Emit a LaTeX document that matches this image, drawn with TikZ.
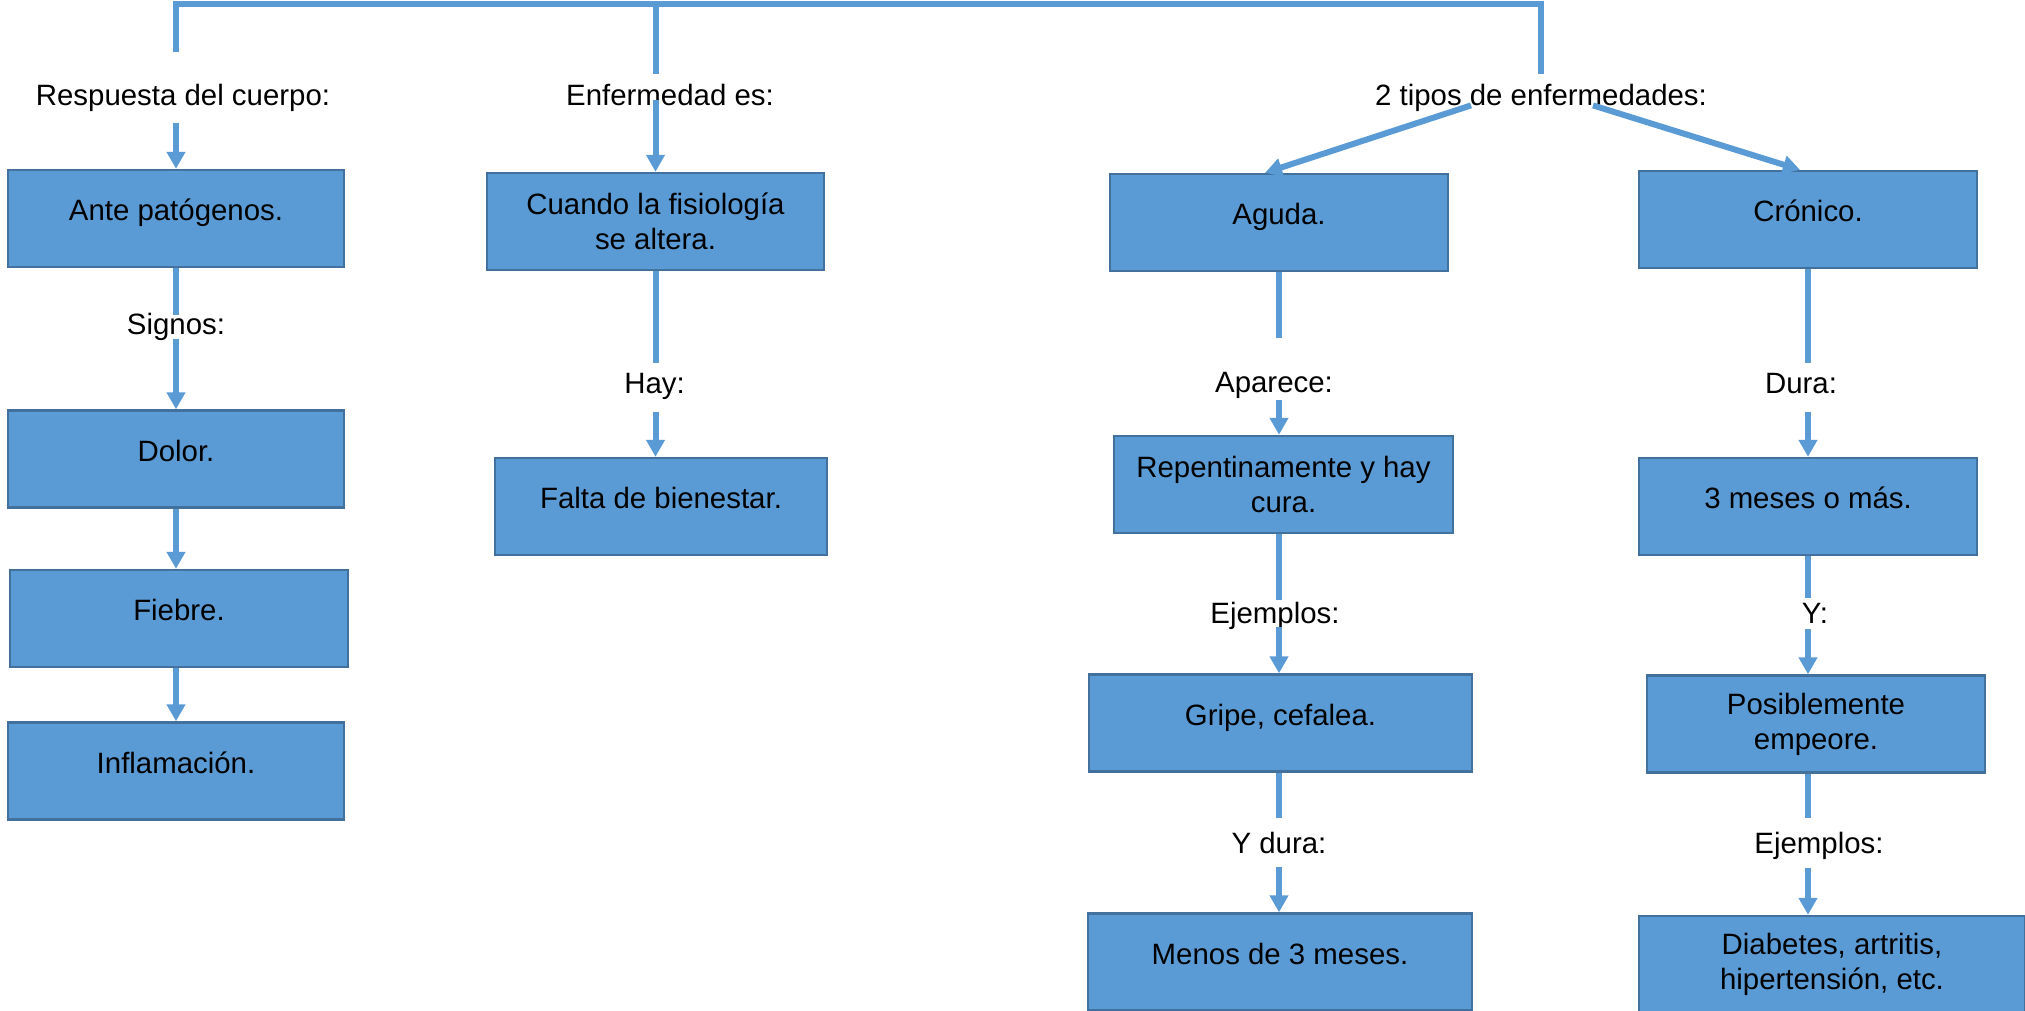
\documentclass[tikz,border=0pt]{standalone}
\usepackage{fontspec}
\setmainfont{Liberation Sans}
\usepackage{xcolor}
\usepackage{tikz}
\usetikzlibrary{arrows.meta,calc}
\definecolor{linkblue}{HTML}{5B9BD5}
\definecolor{boxedge}{HTML}{41719C}

\begin{document}
\begin{tikzpicture}[x=0.5pt, y=-0.5pt,
    font=\fontsize{14.7pt}{17.5pt}\selectfont,
    box/.style={draw=boxedge, line width=1.2pt, fill=linkblue, align=center, inner sep=0pt, minimum height=48.5pt},
    onebox/.style={box, text height=11pt, text depth=8.6pt},
    tag/.style={anchor=base, inner sep=0pt, text height=10.5pt, text depth=3pt},
    link/.style={linkblue, line width=3pt},
    arr/.style={link, -{Triangle[width=9pt,length=8.5pt]}}]
    \useasboundingbox (0,0) rectangle (2025,1011);

    % boxes
    \node[onebox, minimum width=168pt] (ante) at (176,218.5) {Ante patógenos.};
    \node[onebox, minimum width=168pt] (dolor) at (176,459) {Dolor.};
    \node[onebox, minimum width=169pt] (fiebre) at (179,618.5) {Fiebre.};
    \node[onebox, minimum width=168pt] (inflam) at (176,771) {Inflamación.};
    \node[box, minimum width=168.5pt] (cuando) at (655.5,221.5) {Cuando la fisiología\\se altera.};
    \node[onebox, minimum width=166pt] (falta) at (661,506.5) {Falta de bienestar.};
    \node[onebox, minimum width=169pt] (aguda) at (1279,222.5) {Aguda.};
    \node[box, minimum width=169.5pt] (repent) at (1283.5,484.5) {Repentinamente y hay\\cura.};
    \node[onebox, minimum width=191.5pt] (gripe) at (1280.5,723) {Gripe, cefalea.};
    \node[onebox, minimum width=192pt] (menos) at (1280,962) {Menos de 3 meses.};
    \node[onebox, minimum width=169pt] (cronico) at (1808,219.5) {Crónico.};
    \node[onebox, minimum width=169pt] (tres) at (1808,506.5) {3 meses o más.};
    \node[box, minimum width=169pt] (posible) at (1816,724) {Posiblemente\\empeore.};
    \node[box, minimum width=193pt] (diab) at (1832,964.5) {Diabetes, artritis,\\hipertensión, etc.};

    % labels
    \node[tag] (respuesta) at (183,105) {Respuesta del cuerpo:};
    \node[tag] (enfermedad) at (670,105) {Enfermedad es:};
    \node[tag] (tipos) at (1541,105) {2 tipos de enfermedades:};
    \node[tag] (signos) at (176,334) {Signos:};
    \node[tag] (hay) at (654.5,393) {Hay:};
    \node[tag] (aparece) at (1274,392) {Aparece:};
    \node[tag] (ejemplosA) at (1275,623) {Ejemplos:};
    \node[tag] (ydura) at (1279,853) {Y dura:};
    \node[tag] (dura) at (1801,393) {Dura:};
    \node[tag] (ye) at (1815,623) {Y:};
    \node[tag] (ejemplosB) at (1819,853) {Ejemplos:};

    % top bar
    \coordinate (bar) at (0,4);
    \draw[link] ([yshift=16pt]respuesta.north -| ante.north) |- (bar -| tipos.north) -- ([yshift=5pt]tipos.north);
    \draw[link] (bar -| cuando.north) -- ([yshift=5pt]enfermedad.north -| cuando.north);
    \draw[arr, shorten <=6pt] (respuesta.south -| ante.north) -- (ante.north);
    \draw[arr, shorten <=-5.5pt] (enfermedad.south -| cuando.north) -- (cuando.north);
    \draw[arr] ([xshift=-35pt,yshift=3pt]tipos.south) -- ([xshift=-7pt]aguda.north);
    \draw[arr] ([xshift=26pt,yshift=3pt]tipos.south) -- ([xshift=-4pt]cronico.north);

    % left column
    \draw[link, shorten >=-1pt] (ante.south) -- (signos.north -| ante.south);
    \draw[arr, shorten <=-0.5pt] (signos.south -| dolor.north) -- (dolor.north);
    \draw[arr] (dolor.south) -- (dolor.south |- fiebre.north);
    \draw[arr] (fiebre.south -| inflam.north) -- (inflam.north);

    % second column
    \draw[link, shorten >=4.5pt] (cuando.south) -- (hay.north -| cuando.south);
    \draw[arr, shorten <=6.5pt] (hay.south -| cuando.south) -- (cuando.south |- falta.north);

    % third column
    \draw[link, shorten >=16.5pt] (aguda.south) -- (aguda.south |- aparece.north);
    \draw[arr, shorten <=1pt] (aparece.south -| aguda.south) -- (aguda.south |- repent.north);
    \draw[link, shorten >=1pt] (repent.south -| aguda.south) -- (aguda.south |- ejemplosA.north);
    \draw[arr, shorten <=-1pt] (ejemplosA.south -| aguda.south) -- (aguda.south |- gripe.north);
    \draw[link, shorten >=7pt] (gripe.south -| aguda.south) -- (aguda.south |- ydura.north);
    \draw[arr, shorten <=4pt] (ydura.south -| aguda.south) -- (aguda.south |- menos.north);

    % fourth column
    \draw[link, shorten >=4.5pt] (cronico.south) -- (cronico.south |- dura.north);
    \draw[arr, shorten <=6.5pt] (dura.south -| cronico.south) -- (tres.north);
    \draw[link, shorten >=2pt] (tres.south) -- (tres.south |- ye.north);
    \draw[arr] (ye.south -| tres.south) -- (tres.south |- posible.north);
    \draw[link, shorten >=7pt] (posible.south -| tres.south) -- (tres.south |- ejemplosB.north);
    \draw[arr, shorten <=4.5pt] (ejemplosB.south -| tres.south) -- (tres.south |- diab.north);
\end{tikzpicture}
\end{document}
